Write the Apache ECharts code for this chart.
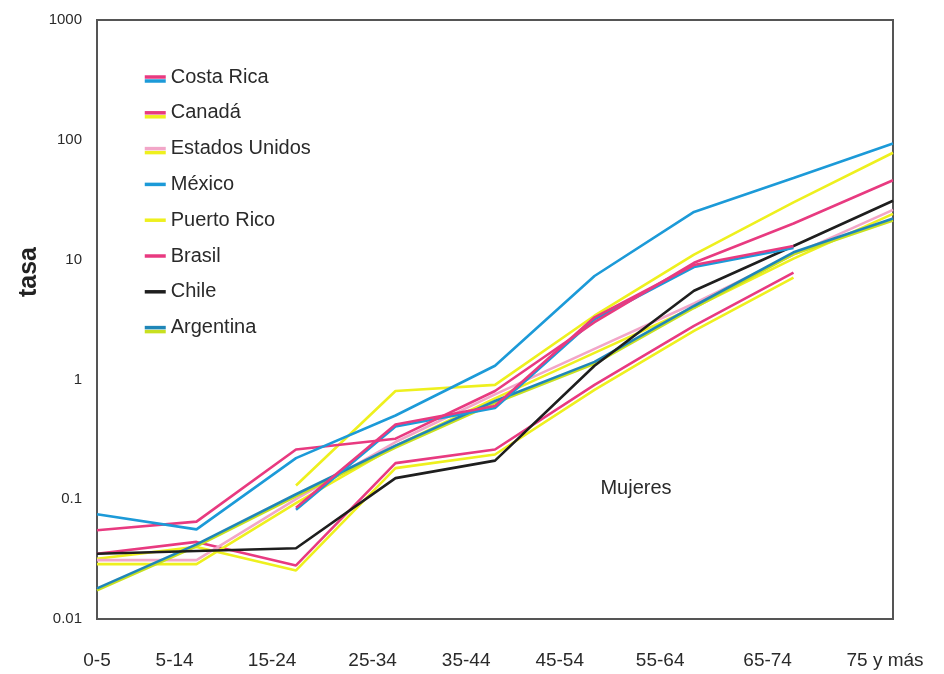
<!DOCTYPE html>
<html>
<head>
<meta charset="utf-8">
<script src="https://cdn.jsdelivr.net/npm/echarts@6/dist/echarts.min.js"></script>
<style>
  html, body { margin: 0; padding: 0; background: #ffffff; }
  #chart { width: 944px; height: 674px; }
</style>
</head>
<body>
<div id="chart"></div>
<script>
// Age groups along the horizontal axis
const ageGroups = ['0-5', '5-14', '15-24', '25-34', '35-44', '45-54', '55-64', '65-74', '75 y más'];
// Decade labels on the logarithmic rate axis
const rateTicks = ['0.01', '0.1', '1', '10', '100', '1000'];

// Rates (tasa) per country and age group; null where no value is drawn
const costaRica     = [null, null, 0.085, 0.42, 0.6, 3.3, 9, 13, null];
const canada        = [0.035, 0.044, 0.028, 0.2, 0.26, 0.9, 2.8, 7.8, null];
const estadosUnidos = [0.031, 0.031, 0.1, 0.3, 0.75, 1.8, 4.3, 11, 26];
const mexico        = [0.075, 0.056, 0.22, 0.5, 1.3, 7.3, 25, 48, 93];
const puertoRico    = [null, null, 0.13, 0.8, 0.9, 3.4, 11, 30, 78];
const brasil        = [0.055, 0.065, 0.26, 0.32, 0.8, 3, 9.4, 20, 46];
const chile         = [0.035, 0.037, 0.039, 0.15, 0.21, 1.3, 5.5, 13, 31];
const argentina     = [0.018, 0.042, 0.11, 0.28, 0.66, 1.4, 4.1, 11.5, 22];

// Where each age label sits under the plot, in category units
const labelSlots = [0, 0.78, 1.76, 2.77, 3.71, 4.65, 5.66, 6.74, 7.92];

const PINK = '#e83a80', BLUE = '#1c9ad8', YELLOW = '#eef01e', LIGHTPINK = '#f2a6c8', BLACK = '#1e1e1e', DARKBLUE = '#1f86b8', LIME = '#c8e020';
const FONT = '"Liberation Sans", Arial, Helvetica, sans-serif';

// Ink pairs per country: main colour, second colour drawn as a hard offset shadow
const inks = {
  'Costa Rica':     [PINK, BLUE, 2],
  'Canadá':         [PINK, YELLOW, 5],
  'Estados Unidos': [LIGHTPINK, YELLOW, 4],
  'México':         [BLUE],
  'Puerto Rico':    [YELLOW],
  'Brasil':         [PINK],
  'Chile':          [BLACK],
  'Argentina':      [DARKBLUE, LIME, 2]
};

function inkStyle(name, width, offset) {
  const ink = inks[name];
  const style = { color: ink[0], width: width };
  if (ink[1]) {
    style.shadowColor = ink[1];
    style.shadowBlur = 0;
    style.shadowOffsetX = 0;
    style.shadowOffsetY = offset != null ? offset : ink[2];
  }
  return style;
}

function series(name, data) {
  return {
    name: name,
    type: 'line',
    data: data,
    symbol: 'none',
    connectNulls: false,
    lineStyle: inkStyle(name, 2.6),
    itemStyle: { color: inks[name][0] },
    emphasis: { disabled: true }
  };
}

const legendOrder = ['Costa Rica', 'Canadá', 'Estados Unidos', 'México', 'Puerto Rico', 'Brasil', 'Chile', 'Argentina'];

const chart = echarts.init(document.getElementById('chart'));
chart.setOption({
  animation: false,
  backgroundColor: '#ffffff',
  textStyle: { fontFamily: FONT },
  grid: {
    left: 97, right: 51, top: 20, bottom: 55,
    show: true, borderColor: '#555555', borderWidth: 2, backgroundColor: 'transparent'
  },
  legend: {
    orient: 'vertical',
    left: 138, top: 62,
    itemWidth: 21, itemHeight: 12, itemGap: 15.8,
    textStyle: { fontSize: 20, color: '#2a2a2a', fontFamily: FONT },
    itemStyle: { opacity: 0 },
    data: legendOrder.map(function (name) {
      return {
        name: name,
        itemStyle: { opacity: 0 },
        lineStyle: inkStyle(name, 3.5, 4)
      };
    })
  },
  xAxis: [
    {
      type: 'category',
      data: ageGroups,
      boundaryGap: false,
      axisLine: { show: false },
      axisTick: { show: false },
      axisLabel: { show: false },
      splitLine: { show: false }
    },
    {
      type: 'value',
      min: 0, max: 8,
      position: 'bottom',
      axisLine: { show: false },
      axisTick: { show: false },
      splitLine: { show: false },
      axisLabel: {
        customValues: labelSlots,
        margin: 32,
        fontSize: 19,
        color: '#2a2a2a',
        hideOverlap: false,
        formatter: function (v) {
          let best = 0;
          for (let i = 1; i < labelSlots.length; i++) {
            if (Math.abs(labelSlots[i] - v) < Math.abs(labelSlots[best] - v)) best = i;
          }
          return ageGroups[best];
        }
      }
    }
  ],
  yAxis: {
    type: 'log',
    logBase: 10,
    min: 0.01,
    max: 1000,
    axisLine: { show: false },
    axisTick: { show: false },
    splitLine: { show: false },
    axisLabel: {
      margin: 15,
      fontSize: 15,
      color: '#2a2a2a',
      formatter: function (v) {
        return rateTicks[Math.round(Math.log10(v)) + 2];
      }
    }
  },
  graphic: [
    {
      type: 'text', x: 29, y: 272, rotation: Math.PI / 2,
      style: { text: 'tasa', font: 'bold 25px ' + FONT, fill: '#222222', textAlign: 'center', textVerticalAlign: 'middle' }
    },
    {
      type: 'text', x: 636, y: 488,
      style: { text: 'Mujeres', font: '20px ' + FONT, fill: '#2a2a2a', textAlign: 'center', textVerticalAlign: 'middle' }
    }
  ],
  series: [
    series('Puerto Rico', puertoRico),
    series('Canadá', canada),
    series('Estados Unidos', estadosUnidos),
    series('Argentina', argentina),
    series('Chile', chile),
    series('Costa Rica', costaRica),
    series('Brasil', brasil),
    series('México', mexico)
  ]
});
</script>
</body>
</html>
